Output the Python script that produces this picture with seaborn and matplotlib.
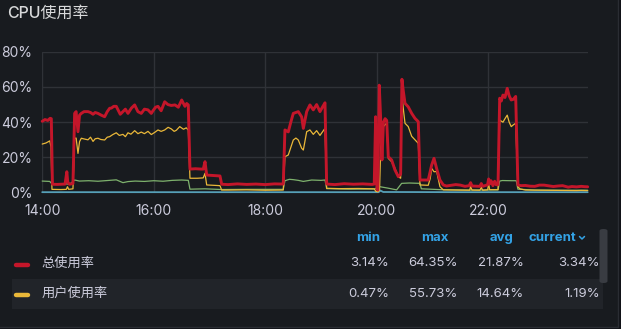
import matplotlib
matplotlib.use("Agg")
import matplotlib.pyplot as plt
import matplotlib.dates as mdates
from matplotlib.patches import Rectangle, FancyBboxPatch
from matplotlib.lines import Line2D
import seaborn as sns
import pandas as pd

# ---- data: minutes after 14:00 and percentage values ----
total_min = [0, 3, 6, 8.5, 9.8, 11, 16, 22, 24.6, 26.5, 27.5, 29.3, 31, 33.1, 34.9, 36.5, 38.5, 40.2,
             42.1, 45, 49.3, 52, 54.7, 57, 60, 63.5, 67.2, 70, 72.6, 74.4, 77, 79.7, 81.6, 84, 86.9,
             89.5, 92.3, 96, 99.5, 103, 106.6, 110, 113.8, 117.4, 119.2, 122, 124.6, 128, 131.8,
             135.3, 138.9, 142.9, 146.5, 150.1, 153.6, 155.5, 157.2, 159, 165, 171, 173.3, 175.2,
             177, 180, 185, 191.3, 193.1, 200, 210, 220, 230, 240, 250, 259.4, 261.2, 264.8, 267.5,
             270.2, 275.6, 279.2, 281, 284.6, 288.1, 291.7, 295.3, 298.9, 301.5, 304.3, 306.1, 315,
             325, 335, 345, 355, 357.3, 358.8, 360.2, 361.2, 362.7, 364.2, 365.6, 367.2, 369, 370.7,
             372.4, 376, 379.6, 383.2, 385.7, 387.1, 388.5, 390.4, 393.9, 397.6, 401.1, 404.7,
             406.5, 415.4, 419.1, 421.6, 424.5, 428, 431.6, 435, 440, 445, 450, 455, 459.5, 461,
             462.5, 471, 472.5, 474, 479.3, 480.4, 481.5, 483, 485, 486.9, 488.5, 490.5, 492.3,
             494, 495.8, 498, 500.4, 502.5, 504.7, 507, 509.5, 511.9, 515, 520, 525, 530, 535, 540,
             545, 550, 555, 560, 566, 570, 575, 580, 584, 587]
total_pct = [40.5, 41.5, 41, 42.2, 42, 4.8, 4.7, 4.8, 4.9, 11.9, 6, 4.8, 5, 5.2, 45, 46, 34.6, 44,
             45, 46, 46, 45.5, 44.5, 45.5, 45, 44, 43.1, 46, 47.9, 48, 49, 49, 47, 44.5, 46, 47.4,
             45, 48, 49.8, 46, 45, 47.4, 47, 45, 46.5, 48.5, 49, 46.5, 51.6, 50, 49.5, 49.8, 48.5,
             52.6, 49, 50.6, 49.8, 13.4, 13.6, 13.4, 13.4, 17.6, 10, 9.9, 9.7, 9.5, 4.8, 4.6, 5.0,
             4.7, 4.9, 4.6, 5.0, 4.9, 35.6, 34.5, 40, 45, 46, 43, 36.5, 46, 49.8, 47, 50, 46, 48.5,
             51, 4.9, 4.6, 5.1, 4.8, 5.0, 4.7, 4.9, 43.1, 2, 1.5, 61, 42, 18.6, 40, 42, 41, 20.4,
             18.6, 12.9, 9.1, 10.5, 64.35, 58, 50.7, 48.7, 45, 42.2, 40.3, 7.2, 7.2, 15.7, 19.5,
             13.6, 7.2, 4.4, 3.8, 4.2, 4.6, 4.3, 3.6, 4.0, 5.7, 3.8, 3.6, 5.2, 3.6, 4.5, 7.8, 5,
             6.8, 4, 6.5, 4.5, 4.6, 53.6, 52, 55.4, 54, 59.2, 55, 52.6, 53, 54.6, 4.4, 4.0, 4.1,
             3.7, 3.6, 4.3, 4.3, 3.9, 3.5, 3.8, 4.0, 3.14, 3.5, 3.3, 3.6, 3.4, 3.34]

user_min = [0, 4, 8.1, 9.5, 10.5, 20, 26, 27.2, 28.5, 33.1, 34.9, 36.5, 38.5, 40.2, 42.1, 45, 49.3,
            52, 54.7, 57, 60, 63, 67.2, 70, 72.6, 76, 79.7, 83, 86.9, 89.5, 92.3, 95.5, 99.5, 103,
            106.6, 110, 113.8, 117.4, 121, 124.6, 128, 131.8, 135.5, 138.9, 142, 144.3, 148, 152,
            155, 157.2, 159, 167, 173.3, 175.2, 177, 185, 191.3, 193.1, 200, 220, 240, 259.4,
            261.2, 264.8, 270.2, 273, 275.6, 279.2, 281, 284.6, 288.1, 291.7, 295.3, 298.9, 304.3,
            306.1, 320, 340, 357.3, 359, 361.2, 363, 364.5, 367, 370.7, 372.4, 376, 379.6, 383.2,
            385.7, 387.1, 388.5, 390.4, 393.9, 397.6, 401.1, 404.7, 406.5, 415.4, 417.5, 419.1,
            421.6, 424.5, 428, 431.6, 445, 460, 461, 462.5, 471, 472.5, 474, 479.3, 480.4, 481.5,
            490.5, 492.3, 495.8, 498, 500.4, 502.5, 504.7, 507, 509.5, 511.9, 514, 520, 540, 560,
            575, 580, 587]
user_pct = [27.6, 28.2, 29.4, 26, 1.9, 1.8, 1.9, 3.4, 1.9, 2.2, 30.9, 31, 22.3, 29, 30.9, 30.5, 30,
            31.5, 29.1, 30.6, 30.9, 30.2, 29.9, 31.5, 31.8, 33, 34, 32.5, 33.1, 31.8, 34, 33.2,
            35.2, 33.5, 34.4, 33.5, 34.8, 33, 34.2, 35.6, 34.8, 35.6, 37.1, 36.2, 34.8, 35.4, 37.5,
            36, 36.8, 35.6, 8.2, 8.2, 8.4, 11, 4.4, 4.2, 4.0, 1.5, 1.5, 1.6, 1.4, 1.5, 20.4, 21.4,
            29.9, 31, 29.9, 25.2, 24.2, 34.6, 35.6, 33.1, 35.2, 32.5, 36.5, 2.5, 2.3, 2.4, 2.2,
            0.8, 0.47, 1.5, 30, 37.5, 39.4, 19.5, 17.6, 13.8, 9.1, 8.2, 55.73, 48, 39.4, 37.5, 32,
            30, 28, 4.4, 4.2, 8, 13.8, 11.9, 12, 3.4, 1.6, 1.5, 1.4, 3.5, 1.5, 1.4, 3.0, 1.4, 1.6,
            5.0, 1.7, 1.7, 41.2, 40, 42, 44, 40, 37.5, 38.5, 39.4, 3.4, 2.2, 1.5, 1.4, 1.3, 1.2,
            1.3, 1.19]

system_min = [0, 8.1, 10.5, 26, 29.6, 34.9, 40, 50, 60, 70, 79.7, 86.9, 92.3, 100, 110, 120, 130,
              140, 150, 157.2, 159, 175, 193, 220, 259.4, 261.2, 266, 270.2, 275.6, 281, 290, 300,
              304.3, 306.1, 330, 357.3, 363.4, 372, 381.4, 386.8, 395, 406.5, 408, 430, 460, 490.5,
              492.3, 495, 505, 510.1, 511.9, 530, 560, 587]
system_pct = [6.6, 6.4, 5.0, 5.0, 4.8, 7.2, 6.6, 6.8, 6.5, 6.9, 7.3, 5.7, 6.3, 6.6, 6.4, 6.8, 6.5,
              7.0, 7.2, 7.0, 2.0, 2.2, 1.8, 1.9, 1.9, 6.8, 7.6, 7.4, 7.0, 6.4, 7.2, 7.0, 7.2, 2.3,
              2.0, 2.1, 3.4, 2.6, 1.6, 5.3, 5.5, 5.3, 2.2, 1.7, 1.5, 1.6, 6.6, 6.9, 6.8, 6.8, 2.0,
              1.5, 1.4, 1.4]

iowait_min = [0, 150, 300, 362, 364, 367, 450, 587]
iowait_pct = [0.3, 0.3, 0.3, 0.3, 1.2, 0.4, 0.3, 0.3]

series_names = ["总使用率", "用户使用率", "系统使用率", "IO等待"]
series_colors = ["#c4162a", "#eab839", "#7eb26d", "#56a0b8"]
series_widths = [2.1, 0.9, 0.9, 1.3]

# legend table: column headers and per-series stats
stat_headers = ["min", "max", "avg", "current"]
legend_names = ["总使用率", "用户使用率"]
legend_stats = [["3.14%", "64.35%", "21.87%", "3.34%"],
                ["0.47%", "55.73%", "14.64%", "1.19%"]]

y_ticks = [0, 20, 40, 60, 80]
y_tick_labels = ["0%", "20%", "40%", "60%", "80%"]
title = "CPU使用率"

# ---- build a long table ----
start = pd.Timestamp("2024-05-20 14:00")
frames = []
for name, mins, vals in zip(series_names,
                            [total_min, user_min, system_min, iowait_min],
                            [total_pct, user_pct, system_pct, iowait_pct]):
    frames.append(pd.DataFrame({
        "time": start + pd.to_timedelta(mins, unit="min"),
        "value": vals,
        "series": name,
    }))
df = pd.concat(frames, ignore_index=True)

# ---- styling ----
W, H = 621, 329
BG = "#181b1f"
TXT = "#ccccdc"
BLUE = "#33a2e5"
CJK = ["Inter", "Noto Sans CJK SC", "DejaVu Sans"]

sns.set_theme(style="dark")
plt.rcParams["font.family"] = CJK
plt.rcParams["axes.unicode_minus"] = False

fig = plt.figure(figsize=(W / 100, H / 100), dpi=100, facecolor="#111217")


def fx(x):
    return x / W


def fy(y):
    return 1 - y / H


# panel background and border
fig.add_artist(Rectangle((fx(-5), fy(326.5)), fx(622.5), fy(-5) - fy(326.5),
                         transform=fig.transFigure, facecolor=BG,
                         edgecolor="#2a2d33", linewidth=1, zorder=0))

ax = fig.add_axes([fx(42.2), fy(192.7), fx(587.7) - fx(42.2), fy(51.7) - fy(192.7)])
ax.set_facecolor("none")

# draw series (bottom to top)
for name, color, lw, z in zip(series_names[::-1], series_colors[::-1],
                              series_widths[::-1], [2, 3, 4, 5]):
    sns.lineplot(data=df[df["series"] == name], x="time", y="value", ax=ax,
                 color=color, linewidth=lw, legend=False, zorder=z,
                 estimator=None, clip_on=False)

ax.set_xlim(start, start + pd.Timedelta(minutes=587))
ax.set_ylim(0, 80)
ax.set_yticks(y_ticks)
ax.set_yticklabels(y_tick_labels)
ax.xaxis.set_major_locator(mdates.HourLocator(byhour=[14, 16, 18, 20, 22]))
ax.xaxis.set_major_formatter(mdates.DateFormatter("%H:%M"))
ax.set_xlabel("")
ax.set_ylabel("")
ax.grid(True, color="#2f3237", linewidth=1)
ax.set_axisbelow(True)
for s in ax.spines.values():
    s.set_visible(False)
ax.tick_params(axis="both", length=0, colors=TXT, labelsize=10)
ax.tick_params(axis="y", pad=7)
ax.tick_params(axis="x", pad=8)

# title
fig.text(fx(7), fy(13), title, color="#d8d9da", fontsize=11.5, fontweight="medium",
         ha="left", va="center", family=CJK)

# legend table
row_y = [263.5, 294]
fig.add_artist(Rectangle((fx(12), fy(309)), fx(603) - fx(12), fy(279) - fy(309),
                         transform=fig.transFigure, facecolor="#212429",
                         edgecolor="none", zorder=1))

header_right = [380, 448, 514, 576]
value_right = [389, 457.5, 524, 600]
for hx, h in zip(header_right, stat_headers):
    fig.text(fx(hx), fy(238), h, color=BLUE, fontsize=9.5, fontweight="bold",
             ha="right", va="center")
# sort chevron next to "current"
fig.add_artist(Line2D([fx(579.5), fx(582), fx(584.5)], [fy(236.5), fy(239), fy(236.5)],
                      transform=fig.transFigure, color=BLUE, linewidth=1.1,
                      solid_capstyle="round"))

for ry, name, color, stats in zip(row_y, legend_names, series_colors, legend_stats):
    fig.add_artist(Line2D([fx(15.5), fx(28)], [fy(ry + 1), fy(ry + 1)],
                          transform=fig.transFigure, color=color, linewidth=3.2,
                          solid_capstyle="round", zorder=3))
    fig.text(fx(41.5), fy(ry), name, color=TXT, fontsize=9.5, ha="left", va="center",
             family=CJK, zorder=3)
    for vx, v in zip(value_right, stats):
        fig.text(fx(vx), fy(ry), v, color=TXT, fontsize=9.5, ha="right", va="center",
                 zorder=3)

# scrollbar
fig.add_artist(FancyBboxPatch((fx(599.5), fy(283)), fx(607.5) - fx(599.5), fy(229) - fy(283),
                              boxstyle="round,pad=0,rounding_size=0.006",
                              transform=fig.transFigure, facecolor="#393c42",
                              edgecolor="none", zorder=2))

fig.savefig("out.png", dpi=100, facecolor=fig.get_facecolor())
